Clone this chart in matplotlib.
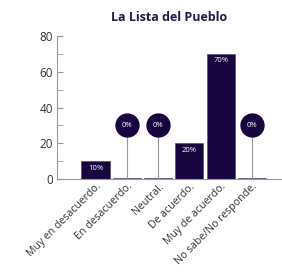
import matplotlib; matplotlib.use("Agg")
import matplotlib.pyplot as plt
from matplotlib.ticker import MultipleLocator

categories = ["Muy en desacuerdo.", "En desacuerdo.", "Neutral.", "De acuerdo.",
              "Muy de acuerdo.", "No sabe/No responde."]
values = [10, 0, 0, 20, 70, 0]
labels = ["10%", "0%", "0%", "20%", "70%", "0%"]
title = "La Lista del Pueblo"
BUBBLE_Y = 30  # height of the callout bubble for empty bars

NAVY = "#16053f"
GREY = "#9a9a9a"
plt.rcParams["font.family"] = ["Open Sans", "DejaVu Sans"]

fig = plt.figure(figsize=(2.82, 2.73), dpi=100)
ax = fig.add_axes([0.202, 0.344, 0.798, 0.524])
x = range(len(categories))
ax.bar(x, [max(v, 0.8) for v in values], width=0.9, color=NAVY,
       edgecolor="#4a4a6a", linewidth=0.4)
for i, (v, lab) in enumerate(zip(values, labels)):
    if v > 0:
        ax.annotate(lab, (i, v), xytext=(0, -5), textcoords="offset points",
                    ha="center", va="center", color="white", fontsize=5.5)
    else:
        ax.plot([i, i], [0.8, BUBBLE_Y], color=GREY, lw=0.8, zorder=2)
        ax.plot(i, BUBBLE_Y, "o", ms=16.5, color=NAVY, zorder=3)
        ax.text(i, BUBBLE_Y, lab, ha="center", va="center", color="white",
                fontsize=5.5, zorder=4)

ax.set_xlim(-1.23, 5.96)
ax.set_ylim(0, 80)
ax.yaxis.set_major_locator(MultipleLocator(20))
ax.yaxis.set_minor_locator(MultipleLocator(10))
ax.tick_params(axis="y", which="both", direction="in", length=4, color=GREY,
               labelsize=8.5, labelcolor="#333333", pad=3)
ax.set_xticks(list(x))
ax.set_xticklabels(categories, rotation=45, ha="right", rotation_mode="anchor",
                   fontsize=7.6, color="#333333")
ax.tick_params(axis="x", length=0, pad=1.5)
for s in ["top", "right"]:
    ax.spines[s].set_visible(False)
for s in ["left", "bottom"]:
    ax.spines[s].set_color(GREY)
    ax.spines[s].set_linewidth(0.8)
fig.text(0.6, 0.935, title, ha="center", va="center", fontsize=9,
         fontweight="bold", color="#221a4f")
fig.savefig("out.png", dpi=100)
